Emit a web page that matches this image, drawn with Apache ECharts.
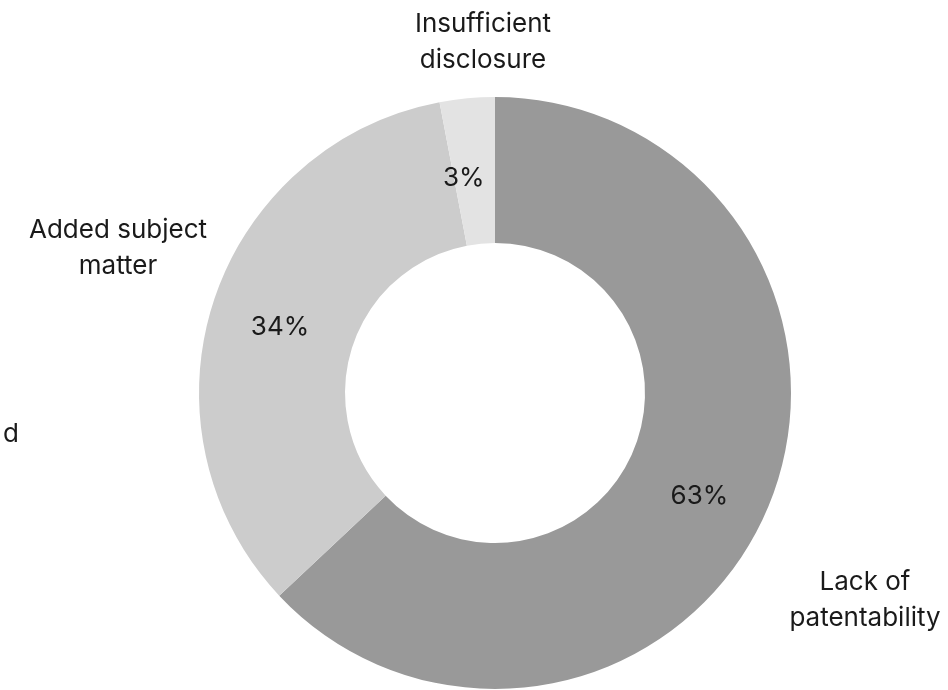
<!DOCTYPE html>
<html>
<head>
<meta charset="utf-8">
<script src="https://cdn.jsdelivr.net/npm/echarts@6/dist/echarts.min.js"></script>
<style>html,body{margin:0;padding:0;background:#fff;}#c{width:948px;height:690px;}</style>
</head>
<body>
<div id="c"></div>
<script>
const categories = ['Lack of patentability', 'Added subject matter', 'Insufficient disclosure'];
const values = [63, 34, 3];
const nameLabels = ['Lack of\npatentability', 'Added subject\nmatter', 'Insufficient\ndisclosure'];
const colors = ['#999999', '#cccccc', '#e3e3e3'];

const namePos = [[865, 600], [118, 248], [483, 42]];
const pctShift = [[-3, 13], [0, 4], [-10, 10]];
const FONT = 'Inter, "Noto Sans", sans-serif';

const chart = echarts.init(document.getElementById('c'), null, {renderer: 'canvas'});
const data = categories.map((c, i) => ({name: c, value: values[i], itemStyle: {color: colors[i]}}));
chart.setOption({
  animation: false,
  series: [
    {
      type: 'pie',
      center: [495, 393],
      radius: [150, 296],
      startAngle: 90,
      clockwise: true,
      silent: true,
      data: data,
      itemStyle: {borderWidth: 0},
      label: {
        position: 'inside',
        formatter: p => p.value + '%',
        color: '#1a1a1a',
        fontSize: 26,
        fontFamily: FONT
      },
      labelLine: {show: false},
      labelLayout: p => ({dx: pctShift[p.dataIndex][0], dy: pctShift[p.dataIndex][1]})
    },
    {
      type: 'pie',
      center: [495, 393],
      radius: [150, 296],
      startAngle: 90,
      clockwise: true,
      silent: true,
      data: categories.map((c, i) => ({name: c, value: values[i], itemStyle: {color: 'rgba(0,0,0,0)'}})),
      label: {
        position: 'outside',
        alignTo: 'none',
        overflow: 'none',
        formatter: p => nameLabels[p.dataIndex],
        color: '#1a1a1a',
        fontSize: 26,
        lineHeight: 36,
        align: 'center',
        fontFamily: FONT
      },
      labelLine: {show: false},
      labelLayout: p => ({
        x: namePos[p.dataIndex][0],
        y: namePos[p.dataIndex][1],
        align: 'center',
        verticalAlign: 'middle'
      })
    }
  ],
  graphic: [{
    type: 'text',
    left: 3, top: 421,
    style: {text: 'd', fontSize: 26, fontFamily: FONT, fill: '#1a1a1a'}
  }]
});
</script>
</body>
</html>
